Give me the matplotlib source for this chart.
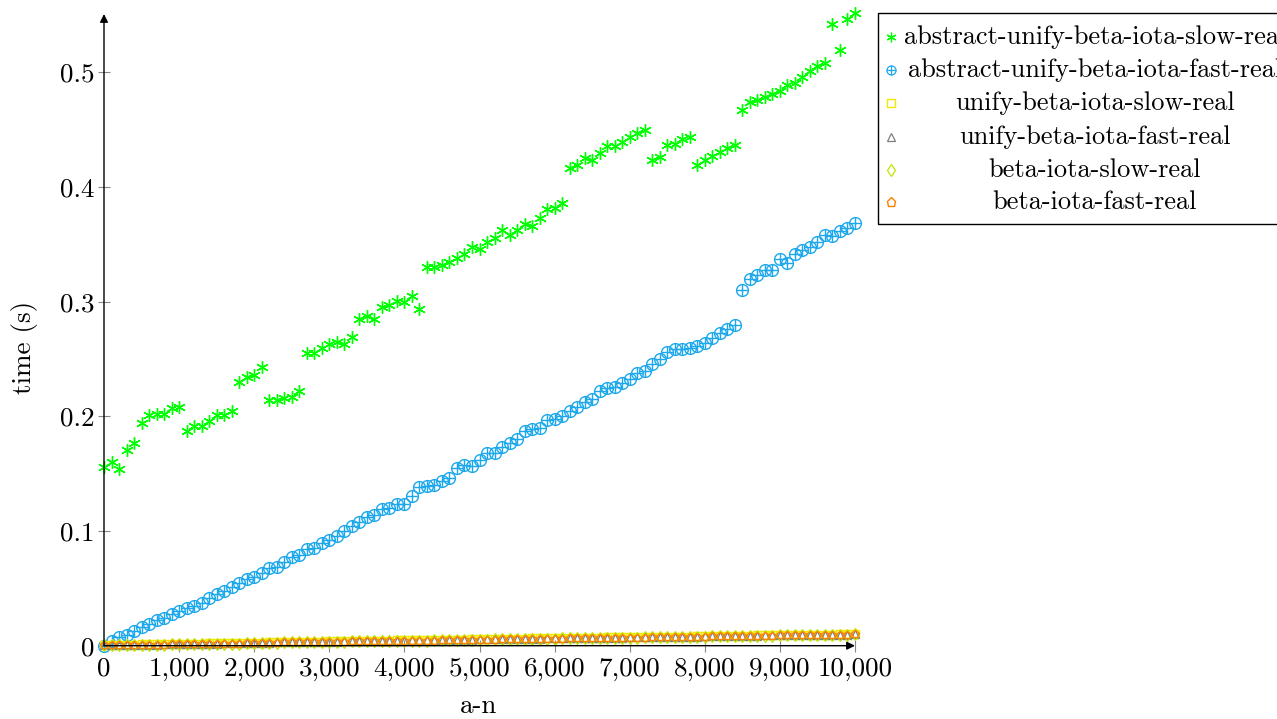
import numpy as np
import matplotlib
matplotlib.use("Agg")
import matplotlib.pyplot as plt
from matplotlib.lines import Line2D
from matplotlib.patches import Rectangle
from matplotlib.ticker import FuncFormatter

plt.rcParams['font.family'] = ['cmr10', 'DejaVu Serif']
plt.rcParams['mathtext.fontset'] = 'cm'
plt.rcParams['axes.formatter.use_mathtext'] = True
fs = 19.5
plt.rcParams['font.size'] = fs

# a-n values, one run every 100
a_n = list(range(0, 10001, 100))

abstract_slow = [
    0.156, 0.160, 0.154, 0.171, 0.177, 0.194, 0.201, 0.202, 0.202, 0.207,
    0.208, 0.187, 0.192, 0.192, 0.196, 0.201, 0.201, 0.205, 0.230, 0.234,
    0.236, 0.243, 0.214, 0.214, 0.216, 0.217, 0.222, 0.255, 0.255, 0.260,
    0.263, 0.265, 0.263, 0.269, 0.285, 0.288, 0.285, 0.295, 0.297, 0.301,
    0.300, 0.305, 0.294, 0.330, 0.330, 0.332, 0.335, 0.338, 0.342, 0.348,
    0.346, 0.352, 0.356, 0.363, 0.358, 0.363, 0.368, 0.366, 0.373, 0.381,
    0.382, 0.386, 0.417, 0.419, 0.425, 0.424, 0.430, 0.436, 0.436, 0.439,
    0.444, 0.447, 0.450, 0.424, 0.426, 0.437, 0.438, 0.442, 0.444, 0.419,
    0.424, 0.427, 0.431, 0.434, 0.437, 0.467, 0.474, 0.476, 0.479, 0.481,
    0.484, 0.489, 0.491, 0.496, 0.501, 0.506, 0.508, 0.542, 0.520, 0.547,
    0.552]

abstract_fast = [
    0.000, 0.004, 0.008, 0.009, 0.013, 0.016, 0.019, 0.022, 0.024, 0.028,
    0.030, 0.033, 0.035, 0.037, 0.042, 0.045, 0.048, 0.051, 0.055, 0.058,
    0.060, 0.063, 0.068, 0.069, 0.073, 0.077, 0.079, 0.084, 0.085, 0.090,
    0.092, 0.096, 0.100, 0.104, 0.108, 0.112, 0.114, 0.119, 0.120, 0.124,
    0.124, 0.131, 0.138, 0.139, 0.140, 0.144, 0.146, 0.155, 0.158, 0.157,
    0.162, 0.168, 0.168, 0.173, 0.177, 0.180, 0.187, 0.189, 0.190, 0.197,
    0.198, 0.200, 0.205, 0.208, 0.213, 0.215, 0.222, 0.225, 0.226, 0.229,
    0.233, 0.238, 0.240, 0.246, 0.250, 0.256, 0.259, 0.259, 0.260, 0.261,
    0.264, 0.268, 0.273, 0.276, 0.280, 0.310, 0.320, 0.323, 0.328, 0.328,
    0.337, 0.334, 0.342, 0.345, 0.348, 0.352, 0.358, 0.357, 0.362, 0.364,
    0.369]

unify_slow = [
    0.0006, 0.0007, 0.0008, 0.0009, 0.0010, 0.0011, 0.0012, 0.0012, 0.0013, 0.0014,
    0.0017, 0.0018, 0.0018, 0.0019, 0.0020, 0.0021, 0.0022, 0.0022, 0.0023, 0.0024,
    0.0025, 0.0026, 0.0028, 0.0032, 0.0032, 0.0033, 0.0034, 0.0035, 0.0035, 0.0036,
    0.0037, 0.0038, 0.0041, 0.0042, 0.0042, 0.0043, 0.0044, 0.0044, 0.0045, 0.0046,
    0.0047, 0.0048, 0.0049, 0.0050, 0.0050, 0.0051, 0.0052, 0.0053, 0.0054, 0.0055,
    0.0058, 0.0059, 0.0059, 0.0060, 0.0061, 0.0062, 0.0062, 0.0063, 0.0064, 0.0066,
    0.0067, 0.0068, 0.0068, 0.0069, 0.0070, 0.0070, 0.0071, 0.0072, 0.0072, 0.0073,
    0.0075, 0.0076, 0.0076, 0.0077, 0.0078, 0.0078, 0.0079, 0.0080, 0.0080, 0.0081,
    0.0085, 0.0086, 0.0086, 0.0087, 0.0087, 0.0088, 0.0088, 0.0089, 0.0091, 0.0093,
    0.0094, 0.0094, 0.0095, 0.0095, 0.0096, 0.0096, 0.0097, 0.0097, 0.0098, 0.0098,
    0.0105]

unify_fast = [
    0.0004, 0.0005, 0.0006, 0.0007, 0.0008, 0.0009, 0.0010, 0.0010, 0.0011, 0.0012,
    0.0015, 0.0016, 0.0016, 0.0017, 0.0018, 0.0019, 0.0020, 0.0020, 0.0021, 0.0022,
    0.0023, 0.0024, 0.0026, 0.0030, 0.0030, 0.0031, 0.0032, 0.0033, 0.0033, 0.0034,
    0.0035, 0.0036, 0.0039, 0.0040, 0.0040, 0.0041, 0.0042, 0.0042, 0.0043, 0.0044,
    0.0045, 0.0046, 0.0047, 0.0048, 0.0048, 0.0049, 0.0050, 0.0051, 0.0052, 0.0053,
    0.0056, 0.0057, 0.0057, 0.0058, 0.0059, 0.0060, 0.0060, 0.0061, 0.0062, 0.0064,
    0.0065, 0.0066, 0.0066, 0.0067, 0.0068, 0.0068, 0.0069, 0.0070, 0.0070, 0.0071,
    0.0073, 0.0074, 0.0074, 0.0075, 0.0076, 0.0076, 0.0077, 0.0078, 0.0078, 0.0079,
    0.0083, 0.0084, 0.0084, 0.0085, 0.0085, 0.0086, 0.0086, 0.0087, 0.0089, 0.0091,
    0.0092, 0.0092, 0.0093, 0.0093, 0.0094, 0.0094, 0.0095, 0.0095, 0.0096, 0.0096,
    0.0103]

beta_slow = [
    0.0003, 0.0004, 0.0005, 0.0006, 0.0007, 0.0008, 0.0009, 0.0009, 0.0010, 0.0011,
    0.0013, 0.0014, 0.0015, 0.0015, 0.0016, 0.0017, 0.0018, 0.0019, 0.0019, 0.0020,
    0.0021, 0.0022, 0.0024, 0.0027, 0.0028, 0.0029, 0.0029, 0.0030, 0.0031, 0.0032,
    0.0033, 0.0034, 0.0036, 0.0037, 0.0038, 0.0039, 0.0039, 0.0040, 0.0041, 0.0042,
    0.0043, 0.0043, 0.0044, 0.0045, 0.0046, 0.0047, 0.0047, 0.0048, 0.0049, 0.0050,
    0.0053, 0.0054, 0.0055, 0.0055, 0.0056, 0.0057, 0.0058, 0.0058, 0.0059, 0.0061,
    0.0062, 0.0063, 0.0063, 0.0064, 0.0065, 0.0066, 0.0066, 0.0067, 0.0068, 0.0068,
    0.0070, 0.0071, 0.0072, 0.0072, 0.0073, 0.0074, 0.0074, 0.0075, 0.0076, 0.0076,
    0.0080, 0.0081, 0.0082, 0.0082, 0.0083, 0.0083, 0.0084, 0.0085, 0.0086, 0.0088,
    0.0089, 0.0090, 0.0090, 0.0091, 0.0091, 0.0092, 0.0092, 0.0093, 0.0093, 0.0094,
    0.0100]

beta_fast = [
    0.0003, 0.0004, 0.0005, 0.0006, 0.0007, 0.0007, 0.0008, 0.0009, 0.0010, 0.0011,
    0.0013, 0.0014, 0.0014, 0.0015, 0.0016, 0.0017, 0.0017, 0.0018, 0.0019, 0.0020,
    0.0021, 0.0022, 0.0024, 0.0027, 0.0028, 0.0028, 0.0029, 0.0030, 0.0031, 0.0031,
    0.0032, 0.0033, 0.0036, 0.0037, 0.0037, 0.0038, 0.0039, 0.0040, 0.0040, 0.0041,
    0.0042, 0.0043, 0.0044, 0.0045, 0.0045, 0.0046, 0.0047, 0.0048, 0.0049, 0.0050,
    0.0053, 0.0053, 0.0054, 0.0055, 0.0056, 0.0057, 0.0057, 0.0058, 0.0059, 0.0060,
    0.0061, 0.0062, 0.0063, 0.0064, 0.0064, 0.0065, 0.0066, 0.0066, 0.0067, 0.0068,
    0.0070, 0.0071, 0.0071, 0.0072, 0.0073, 0.0073, 0.0074, 0.0075, 0.0075, 0.0076,
    0.0080, 0.0081, 0.0081, 0.0082, 0.0082, 0.0083, 0.0084, 0.0084, 0.0086, 0.0088,
    0.0089, 0.0089, 0.0090, 0.0090, 0.0091, 0.0091, 0.0092, 0.0092, 0.0093, 0.0093,
    0.0101]

labels = ['abstract-unify-beta-iota-slow-real', 'abstract-unify-beta-iota-fast-real',
          'unify-beta-iota-slow-real', 'unify-beta-iota-fast-real',
          'beta-iota-slow-real', 'beta-iota-fast-real']

green = '#00ff00'
blue = '#1ea8ec'
yellow = '#f5e600'
gray = '#7f7f7f'
lime = '#bfe600'
orange = '#ff8000'

W, H = 1277, 719
fig = plt.figure(figsize=(W / 100, H / 100), dpi=100)
ax = fig.add_axes([104 / W, 1 - 645.7 / H, (855 - 104) / W, (645.7 - 14) / H])

star = (6, 2, 0)
ax.plot(a_n, abstract_slow, ls='none', marker=star, ms=9, mec=green, mew=1.0, clip_on=False, zorder=3)
ax.plot(a_n, abstract_fast, ls='none', marker='o', ms=8.5, mfc='none', mec=blue, mew=1.0, clip_on=False, zorder=3)
ax.plot(a_n, abstract_fast, ls='none', marker='+', ms=8.5, mec=blue, mew=1.0, clip_on=False, zorder=3)
ax.plot(a_n, unify_slow, ls='none', marker='s', ms=5.5, mfc='none', mec=yellow, mew=1.0, clip_on=False, zorder=3)
ax.plot(a_n, unify_fast, ls='none', marker='^', ms=5.5, mfc='none', mec=gray, mew=0.9, clip_on=False, zorder=3)
ax.plot(a_n, beta_slow, ls='none', marker='d', ms=6, mfc='none', mec=lime, mew=0.9, clip_on=False, zorder=3)
ax.plot(a_n, beta_fast, ls='none', marker='p', ms=6, mfc='none', mec=orange, mew=1.0, clip_on=False, zorder=3)

ax.set_xlim(0, 10000)
ax.set_ylim(0, 0.551)
ax.set_xticks(range(0, 10001, 1000))
ax.set_yticks([0, 0.1, 0.2, 0.3, 0.4, 0.5])
ax.xaxis.set_major_formatter(FuncFormatter(lambda v, p: f'{v:,.0f}'))
ax.yaxis.set_major_formatter(FuncFormatter(lambda v, p: '0' if v == 0 else f'{v:.1f}'))
ax.tick_params(direction='inout', length=8, width=0.8, color='#888888', labelsize=fs)
ax.tick_params(axis='x', pad=4)
ax.tick_params(axis='y', pad=3)

for s in ax.spines.values():
    s.set_visible(False)
ax.annotate('', xy=(0, 1), xytext=(0, 0), xycoords='axes fraction',
            arrowprops=dict(arrowstyle='-|>', color='black', lw=1.0, mutation_scale=12, shrinkA=0, shrinkB=0))
ax.annotate('', xy=(1, 0), xytext=(0, 0), xycoords='axes fraction',
            arrowprops=dict(arrowstyle='-|>', color='black', lw=1.0, mutation_scale=12, shrinkA=0, shrinkB=0))

fig.text(25 / W, 1 - 347 / H, 'time (s)', rotation=90, ha='center', va='center', fontsize=fs)
fig.text(479 / W, 1 - 706 / H, 'a-n', ha='center', va='center', fontsize=fs)

# legend box, cut at the right edge like the original
leg_fs = 19
fig.add_artist(Rectangle((878 / W, 1 - 224 / H), 420 / W, (224 - 13) / H, transform=fig.transFigure,
                         fill=False, ec='black', lw=1.0, clip_on=False))
leg_styles = [
    dict(marker=star, ms=7, mec=green, mew=0.9),
    dict(marker='o', ms=6.5, mfc='none', mec=blue, mew=0.9),
    dict(marker='s', ms=6, mfc='none', mec=yellow, mew=1.0),
    dict(marker='^', ms=5.5, mfc='none', mec=gray, mew=0.9),
    dict(marker='d', ms=6.5, mfc='none', mec=lime, mew=0.9),
    dict(marker='p', ms=6.5, mfc='none', mec=orange, mew=1.0),
]
row_y = [37, 70, 103, 137, 170, 202]
for lab, st, yy in zip(labels, leg_styles, row_y):
    fy = 1 - yy / H
    fig.add_artist(Line2D([891 / W], [fy], ls='none', transform=fig.transFigure, **st))
    if st['mec'] == blue:
        fig.add_artist(Line2D([891 / W], [fy], ls='none', marker='+', ms=6.5, mec=blue, mew=0.9,
                              transform=fig.transFigure))
    fig.text(1095 / W, fy, lab, ha='center', va='center', fontsize=leg_fs)

fig.savefig('out.png', dpi=100)
